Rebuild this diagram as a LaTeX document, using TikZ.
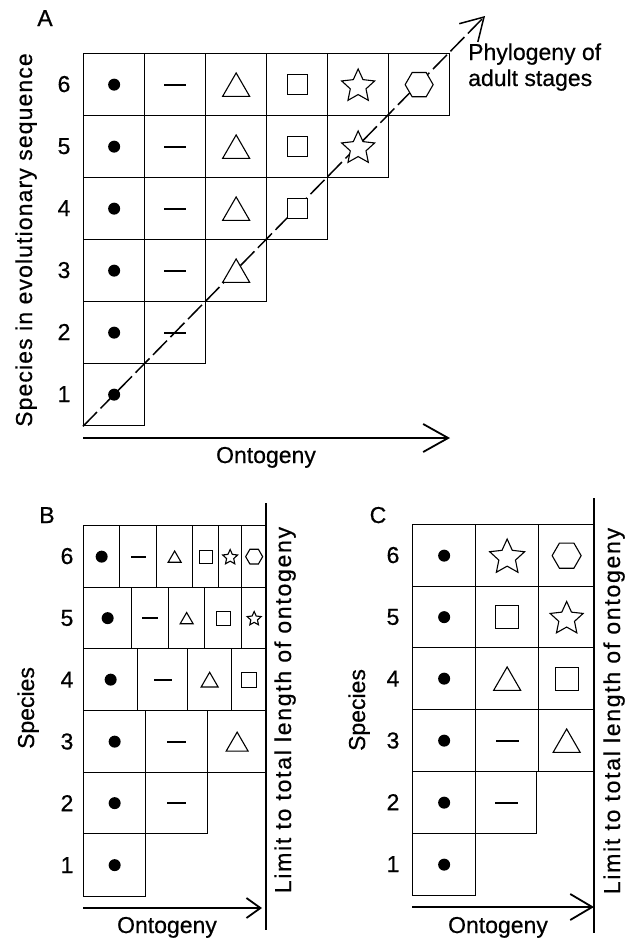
\documentclass[tikz,border=0pt]{standalone}
\usepackage{fontspec}
\setmainfont[FakeBold=0.6]{Liberation Sans}
\usetikzlibrary{shapes.geometric,arrows.meta}
\newcommand\mycell[5]{\node[cell, minimum width={(#3-#2)*1pt}, minimum height={#5*1pt}] (#1) at (#2,#4) {};}
\begin{document}
\begin{tikzpicture}[x=1pt,y=-1pt,
  every node/.style={font=\fontsize{23}{26}\selectfont},
  cell/.style={draw, line width=1.3pt, inner sep=0pt, anchor=north west},
  sdot/.style={circle, fill=black, inner sep=0pt, minimum size=#1*1pt},
  sdash/.style={rectangle, fill=black, inner sep=0pt, minimum width=#1*1pt, minimum height=2.3pt},
  stri/.style={regular polygon, regular polygon sides=3, draw, fill=white, line width=1.1pt, inner sep=0pt, minimum size=1.155*#1*1pt, yshift=-0.144*#1*1pt},
  ssq/.style={rectangle, draw, fill=white, line width=1.1pt, inner sep=0pt, minimum size=#1*1pt},
  sstar/.style={star, star points=5, star point ratio=2.1, draw, fill=white, line width=1.1pt, inner sep=0pt, minimum size=1.05*#1*1pt, yshift=-0.05*#1*1pt},
  shex/.style={regular polygon, regular polygon sides=6, draw, fill=white, line width=1.1pt, inner sep=0pt, minimum size=#1*1pt},
  lab/.style={inner sep=0pt, anchor=base},
  axis/.style={line width=1.8pt},
  limit/.style={line width=1.8pt},
  phyl/.style={line width=1.5pt, dash pattern=on 20pt off 5pt},
]
\useasboundingbox[fill=white] (0,0) rectangle (632,940);

% ================= Panel A =================
\node[lab] (labA) at (45,26) {A};
\foreach \r in {1,...,6}{
  \foreach \c in {1,...,\r}{
    \node[cell, minimum width=61pt, minimum height=62pt] (A-\r-\c) at ({83+(\c-1)*61},{53+(6-\r)*62}) {};
  }
  \node[lab] (lA\r) at (64,{53+(6-\r)*62+39}) {\r};
}
\coordinate (phyltip) at (485,16);
\draw[phyl, -{Straight Barb[length=22pt,width=26pt,line width=1.5pt]}] (A-1-1.south west) -- (phyltip);
\foreach \r in {1,...,6} \node[sdot=12] (dA\r) at (A-\r-1.center) {};
\foreach \r in {2,...,6} \node[sdash=22] (eA\r) at (A-\r-2.center) {};
\foreach \r in {3,...,6} \node[stri=27] (tA\r) at (A-\r-3.center) {};
\foreach \r in {4,...,6} \node[ssq=20] (qA\r) at (A-\r-4.center) {};
\foreach \r in {5,6} \node[sstar=33] (sA\r) at (A-\r-5.center) {};
\node[shex=28] (hA6) at (A-6-6.center) {};
\node[lab, anchor=base west] (phy1) at (468,60) {Phylogeny of};
\node[lab, anchor=base west] (phy2) at (468,86) {adult stages};
\coordinate (oA0) at (83,438);
\coordinate (oA1) at (450,438);
\draw[axis, -{Straight Barb[length=25pt,width=28pt,line width=1.8pt]}] (oA0) -- (oA1);
\node[lab] (ontA) at (266,463) {Ontogeny};
\node[lab, rotate=90] (spA) at (32,240) {\addfontfeature{LetterSpace=4.8}Species in evolutionary sequence};

% ================= Panel B =================
\node[lab] (labB) at (47,523) {B};
% row 6
\mycell{B-6-1}{83}{119}{525}{62}
\mycell{B-6-2}{119}{156}{525}{62}
\mycell{B-6-3}{156}{192}{525}{62}
\mycell{B-6-4}{192}{218}{525}{62}
\mycell{B-6-5}{218}{241}{525}{62}
\mycell{B-6-6}{241}{266}{525}{62}
% row 5
\mycell{B-5-1}{83}{131}{587}{61}
\mycell{B-5-2}{131}{168}{587}{61}
\mycell{B-5-3}{168}{204}{587}{61}
\mycell{B-5-4}{204}{241}{587}{61}
\mycell{B-5-5}{241}{266}{587}{61}
% row 4
\mycell{B-4-1}{83}{137}{648}{62}
\mycell{B-4-2}{137}{187}{648}{62}
\mycell{B-4-3}{187}{231}{648}{62}
\mycell{B-4-4}{231}{266}{648}{62}
% row 3
\mycell{B-3-1}{83}{145}{710}{62}
\mycell{B-3-2}{145}{207}{710}{62}
\mycell{B-3-3}{207}{266}{710}{62}
% row 2
\mycell{B-2-1}{83}{145}{772}{61}
\mycell{B-2-2}{145}{207}{772}{61}
% row 1
\mycell{B-1-1}{83}{145}{833}{63}
\foreach \r in {1,...,6}{
  \node[sdot=12] (dB\r) at (B-\r-1.center) {};
  \node[lab] (lB\r) at (67,{525+(6-\r)*61.8+39}) {\r};
}
\node[sdash=15] (eB6) at (B-6-2.center) {};
\node[stri=13] (tB6) at (B-6-3.center) {};
\node[ssq=13] (qB6) at (B-6-4.center) {};
\node[sstar=15] (sB6) at (B-6-5.center) {};
\node[shex=17] (hB6) at (B-6-6.center) {};
\node[sdash=16] (eB5) at (B-5-2.center) {};
\node[stri=13] (tB5) at (B-5-3.center) {};
\node[ssq=14] (qB5) at (B-5-4.center) {};
\node[sstar=14] (sB5) at (B-5-5.center) {};
\node[sdash=18] (eB4) at (B-4-2.center) {};
\node[stri=17] (tB4) at (B-4-3.center) {};
\node[ssq=15] (qB4) at (B-4-4.center) {};
\node[sdash=19] (eB3) at (B-3-2.center) {};
\node[stri=22] (tB3) at (B-3-3.center) {};
\node[sdash=19] (eB2) at (B-2-2.center) {};
\coordinate (limB0) at (266,503);
\coordinate (limB1) at (266,930);
\draw[limit] (limB0) -- (limB1);
\coordinate (oB0) at (83,908);
\coordinate (oB1) at (262,908);
\draw[axis, -{Straight Barb[length=14pt,width=20pt,line width=1.8pt]}] (oB0) -- (oB1);
\node[lab] (ontB) at (167,933) {Ontogeny};
\node[lab, rotate=90] (spB) at (34,708) {Species};
\node[lab, rotate=90] (limtB) at (291,710) {\addfontfeature{LetterSpace=7.5}Limit to total length of ontogeny};

% ================= Panel C =================
\node[lab] (labC) at (378,523) {C};
% row 6
\mycell{C-6-1}{412}{475}{524}{62}
\mycell{C-6-2}{475}{538}{524}{62}
\mycell{C-6-3}{538}{594}{524}{62}
% row 5
\mycell{C-5-1}{412}{475}{586}{61}
\mycell{C-5-2}{475}{538}{586}{61}
\mycell{C-5-3}{538}{594}{586}{61}
% row 4
\mycell{C-4-1}{412}{475}{647}{62}
\mycell{C-4-2}{475}{538}{647}{62}
\mycell{C-4-3}{538}{594}{647}{62}
% row 3
\mycell{C-3-1}{412}{475}{709}{62}
\mycell{C-3-2}{475}{538}{709}{62}
\mycell{C-3-3}{538}{594}{709}{62}
% row 2
\mycell{C-2-1}{412}{475}{771}{62}
\mycell{C-2-2}{475}{536}{771}{62}
% row 1
\mycell{C-1-1}{412}{475}{833}{62}
\foreach \r in {1,...,6}{
  \node[sdot=12] (dC\r) at (C-\r-1.center) {};
  \node[lab] (lC\r) at (393,{524+(6-\r)*61.8+39}) {\r};
}
\node[sstar=35] (sC6) at (C-6-2.center) {};
\node[shex=29] (hC6) at (C-6-3.center) {};
\node[ssq=23] (qC5) at (C-5-2.center) {};
\node[sstar=33] (sC5) at (C-5-3.center) {};
\node[stri=27] (tC4) at (C-4-2.center) {};
\node[ssq=23] (qC4) at (C-4-3.center) {};
\node[sdash=23] (eC3) at (C-3-2.center) {};
\node[stri=27] (tC3) at (C-3-3.center) {};
\node[sdash=23] (eC2) at (C-2-2.center) {};
\coordinate (limC0) at (594,498);
\coordinate (limC1) at (594,933);
\draw[limit] (limC0) -- (limC1);
\coordinate (oC0) at (412,907);
\coordinate (oC1) at (594,907);
\draw[axis, -{Straight Barb[length=22pt,width=26pt,line width=1.8pt]}] (oC0) -- (oC1);
\node[lab] (ontC) at (498,933) {Ontogeny};
\node[lab, rotate=90] (spC) at (365,710) {Species};
\node[lab, rotate=90] (limtC) at (620,711) {\addfontfeature{LetterSpace=7.5}Limit to total length of ontogeny};
\end{tikzpicture}
\end{document}
